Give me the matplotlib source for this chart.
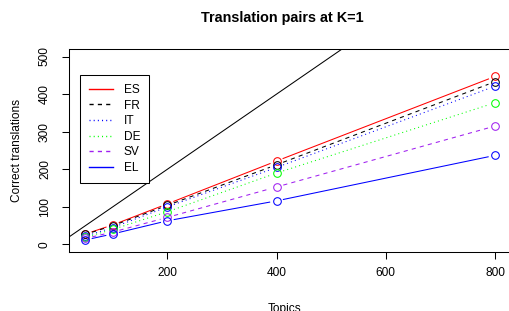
import numpy as np
import matplotlib
matplotlib.use("Agg")
from matplotlib import pyplot as plt
from matplotlib.lines import Line2D

plt.rcParams['font.family'] = ['Liberation Sans', 'DejaVu Sans']

# data
topics = [50, 100, 200, 400, 800]
es = [28, 52, 108, 222, 447]
fr = [27, 50, 104, 212, 433]
it = [22, 45, 100, 205, 421]
de = [19, 40, 87, 190, 377]
sv = [16, 33, 72, 153, 315]
el = [12, 28, 63, 116, 237]

langs = ['ES', 'FR', 'IT', 'DE', 'SV', 'EL']
series = [es, fr, it, de, sv, el]
colors = ['#FF0000', '#000000', '#0000FF', '#00FF00', '#A020F0', '#0000FF']
dashes = [None, (4, 4), (1, 3), (1, 3), (4, 4), None]

xticks = [200, 400, 600, 800]
yticks = [0, 100, 200, 300, 400, 500]

W, H = 510, 311
fig = plt.figure(figsize=(W / 100, H / 100), dpi=100)
# plot box in pixels: left 69, right 511.4, top 49, bottom 252
ax = fig.add_axes([69 / W, (H - 252) / H, (511.4 - 69) / W, (252 - 49) / H])
ax.set_xlim(20, 830)
ax.set_ylim(-20, 520)

for s in ax.spines.values():
    s.set_linewidth(0.75)
ax.set_xticks(xticks)
ax.set_yticks(yticks)
ax.set_yticklabels([str(v) for v in yticks], rotation=90, va='center')
ax.tick_params(direction='out', length=5, width=0.75, labelsize=8.6)
ax.tick_params(axis='x', pad=6)
ax.tick_params(axis='y', pad=8)

# y = x reference line
ax.axline((0, 0), slope=1, color='black', lw=0.75)


def gapped(ax, x, y, gap, **kw):
    # like R type="b": segments stop short of the points
    pts = ax.transData.transform(np.column_stack([x, y]))
    inv = ax.transData.inverted()
    for a, b in zip(pts[:-1], pts[1:]):
        d = b - a
        L = np.hypot(*d)
        if L <= 2 * gap:
            continue
        u = d / L
        seg = inv.transform(np.vstack([a + u * gap, b - u * gap]))
        ax.plot(seg[:, 0], seg[:, 1], **kw)


handles = []
for name, ys, c, ds in zip(langs, series, colors, dashes):
    kw = dict(color=c, lw=0.75)
    if ds is not None:
        kw['dashes'] = ds
    gapped(ax, topics, ys, 7, **kw)
    ax.plot(topics, ys, 'o', mfc='none', mec=c, ms=5.5, mew=0.75)
    hk = dict(kw, lw=1.0)
    if ds is not None:
        hk['dashes'] = (ds[0] * 0.75, ds[1] * 0.75)
    handles.append(Line2D([0, 1], [0, 0], **hk))

leg = fig.legend(handles, langs, loc='upper left',
                 bbox_to_anchor=(80 / W, (H - 75) / H),
                 fontsize=8.6, frameon=True, fancybox=False, framealpha=1,
                 edgecolor='black', borderpad=0.75, labelspacing=0.3,
                 handlelength=2.0, handletextpad=0.9, borderaxespad=0)
leg.get_frame().set_linewidth(0.75)

fig.text(282 / W, (H - 21.7) / H, 'Translation pairs at K=1', ha='center',
         va='baseline', fontsize=10.4, fontweight='bold')
fig.text(17 / W, (H - 150) / H, 'Correct translations', rotation=90,
         ha='center', va='center', fontsize=8.6)
fig.text(284 / W, -1.4 / H, 'Topics', ha='center', va='baseline', fontsize=8.6)

fig.savefig('out.png', dpi=100)
